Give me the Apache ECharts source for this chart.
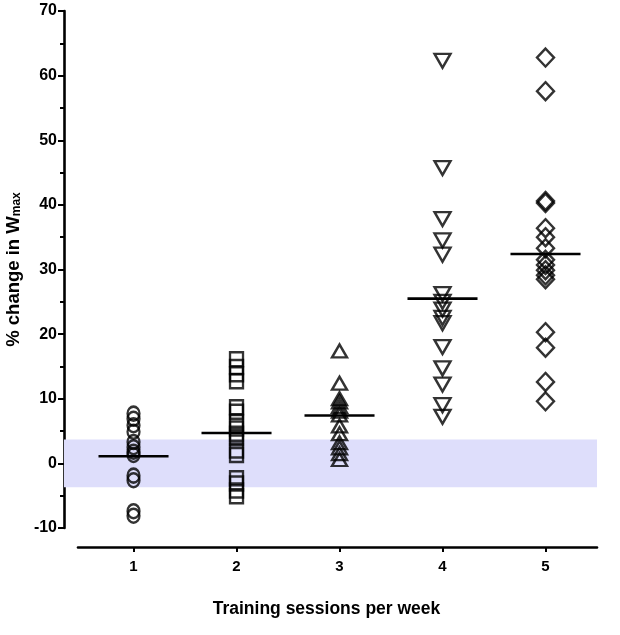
<!DOCTYPE html>
<html>
<head>
<meta charset="utf-8">
<script src="https://cdn.jsdelivr.net/npm/echarts@6/dist/echarts.min.js"></script>
<style>
html,body{margin:0;padding:0;background:#fff;}
#chart{width:620px;height:635px;}
</style>
</head>
<body>
<div id="chart"></div>
<script>
// ---- data ----
const categories = [1, 2, 3, 4, 5];
const xTickLabels = ['1', '2', '3', '4', '5'];
const group1 = [7.7, 6.9, 5.9, 4.9, 3.3, 2.5, 1.8, 1.3, -1.9, -2.6, -7.4, -8.1];
const group2 = [16.1, 14.9, 13.8, 12.7, 8.7, 8.0, 6.4, 5.4, 4.6, 3.9, 2.0, 1.3, -2.3, -3.1, -4.2, -5.1];
const group3 = [17.4, 12.4, 10.0, 9.5, 8.8, 8.1, 7.5, 5.8, 4.6, 3.2, 2.4, 1.5, 0.6];
const group4 = [62.3, 45.7, 37.8, 34.5, 32.3, 26.2, 25.0, 23.8, 22.5, 21.7, 18.0, 14.7, 12.2, 9.0, 7.2];
const group5 = [62.8, 57.6, 40.6, 40.3, 36.4, 35.0, 33.3, 31.5, 30.7, 29.9, 29.1, 28.5, 20.3, 17.9, 12.6, 9.6];
const means = [1.1, 4.7, 7.4, 25.5, 32.4];
const band = [-3.7, 3.7];
const yTickValues = [-10, 0, 10, 20, 30, 40, 50, 60, 70];

// ---- styling ----
const FONT = '"Liberation Sans", Arial, Helvetica, sans-serif';
const groups = [group1, group2, group3, group4, group5];
const symbols = [
  {symbol: 'path://M0,-1A1,1,0,1,1,0,1A1,1,0,1,1,0,-1Z', size: [12, 14], rotate: 0},
  {symbol: 'rect', size: [13, 14], rotate: 0},
  {symbol: 'triangle', size: [15, 13], rotate: 0},
  {symbol: 'triangle', size: [16, 14], rotate: 180},
  {symbol: 'diamond', size: [17, 18], rotate: 0}
];
const halfWidth = 0.34;

const chart = echarts.init(document.getElementById('chart'), null, {renderer: 'canvas'});

const series = groups.map((g, i) => ({
  type: 'scatter',
  xAxisIndex: 0, yAxisIndex: 0,
  data: g.map(v => [categories[i], v]),
  symbol: symbols[i].symbol,
  symbolSize: symbols[i].size,
  symbolRotate: symbols[i].rotate,
  itemStyle: {color: 'rgba(0,0,0,0)', borderColor: '#000', borderWidth: 2.4},
  emphasis: {disabled: true},
  silent: true,
  z: 3
}));

series.unshift({
  type: 'scatter',
  xAxisIndex: 0, yAxisIndex: 0,
  data: [],
  silent: true,
  markArea: {
    silent: true,
    itemStyle: {color: 'rgb(222,222,251)'},
    data: [[{yAxis: band[0]}, {yAxis: band[1]}]]
  },
  z: 1
});

series.push({
  type: 'custom',
  xAxisIndex: 0, yAxisIndex: 0,
  data: means.map((m, i) => [categories[i], m]),
  silent: true,
  z: 4,
  renderItem: function (params, api) {
    const x = api.value(0), m = api.value(1);
    const p1 = api.coord([x - halfWidth, m]);
    const p2 = api.coord([x + halfWidth, m]);
    return {
      type: 'line',
      shape: {x1: p1[0], y1: p1[1], x2: p2[0], y2: p2[1]},
      style: {stroke: '#000', lineWidth: 2.6}
    };
  }
});

const option = {
  backgroundColor: '#fff',
  animation: false,
  grid: [
    {left: 64, right: 23, top: 11, bottom: 107, outerBoundsMode: 'none', containLabel: false},
    {left: 78, right: 23, top: 11, bottom: 107, outerBoundsMode: 'none', containLabel: false}
  ],
  xAxis: [
    {type: 'value', gridIndex: 0, min: 0.325, max: 5.5, show: false},
    {
      type: 'value', gridIndex: 1, min: 0.4612, max: 5.5, offset: 19,
      position: 'bottom',
      axisLine: {show: true, onZero: false, lineStyle: {color: '#000', width: 2.6}},
      axisTick: {show: true, customValues: categories, length: 5, lineStyle: {color: '#000', width: 2}},
      axisLabel: {
        show: true, customValues: categories,
        formatter: v => xTickLabels[categories.indexOf(v)] || '',
        color: '#000', fontFamily: FONT, fontWeight: 'bold', fontSize: 15, margin: 12
      },
      splitLine: {show: false},
      name: 'Training sessions per week',
      nameLocation: 'middle', nameGap: 53,
      nameTextStyle: {color: '#000', fontFamily: FONT, fontWeight: 'bold', fontSize: 17.5, padding: [0, 22, 0, 0]}
    }
  ],
  yAxis: [
    {
      type: 'value', gridIndex: 0, min: -10, max: 70, interval: 10,
      axisLine: {show: true, lineStyle: {color: '#000', width: 2.6}},
      axisTick: {show: true, length: 6, lineStyle: {color: '#000', width: 2}},
      minorTick: {show: true, splitNumber: 2, length: 4, lineStyle: {color: '#000', width: 2}},
      axisLabel: {
        color: '#000', fontFamily: FONT, fontWeight: 'bold', fontSize: 16, margin: 7,
        formatter: v => yTickValues.includes(v) ? String(v) : ''
      },
      splitLine: {show: false},
      minorSplitLine: {show: false},
      name: '{a|% change in W}{b|max}',
      nameLocation: 'middle', nameGap: 39, nameRotate: 90,
      nameTextStyle: {
        color: '#000', fontFamily: FONT,
        rich: {
          a: {fontFamily: FONT, fontWeight: 'bold', fontSize: 18.5, color: '#000', lineHeight: 24, verticalAlign: 'bottom'},
          b: {fontFamily: FONT, fontWeight: 'bold', fontSize: 12, color: '#000', lineHeight: 24, verticalAlign: 'bottom'}
        }
      }
    },
    {type: 'value', gridIndex: 1, min: -10, max: 70, show: false}
  ],
  series: series
};

chart.setOption(option);
</script>
</body>
</html>
